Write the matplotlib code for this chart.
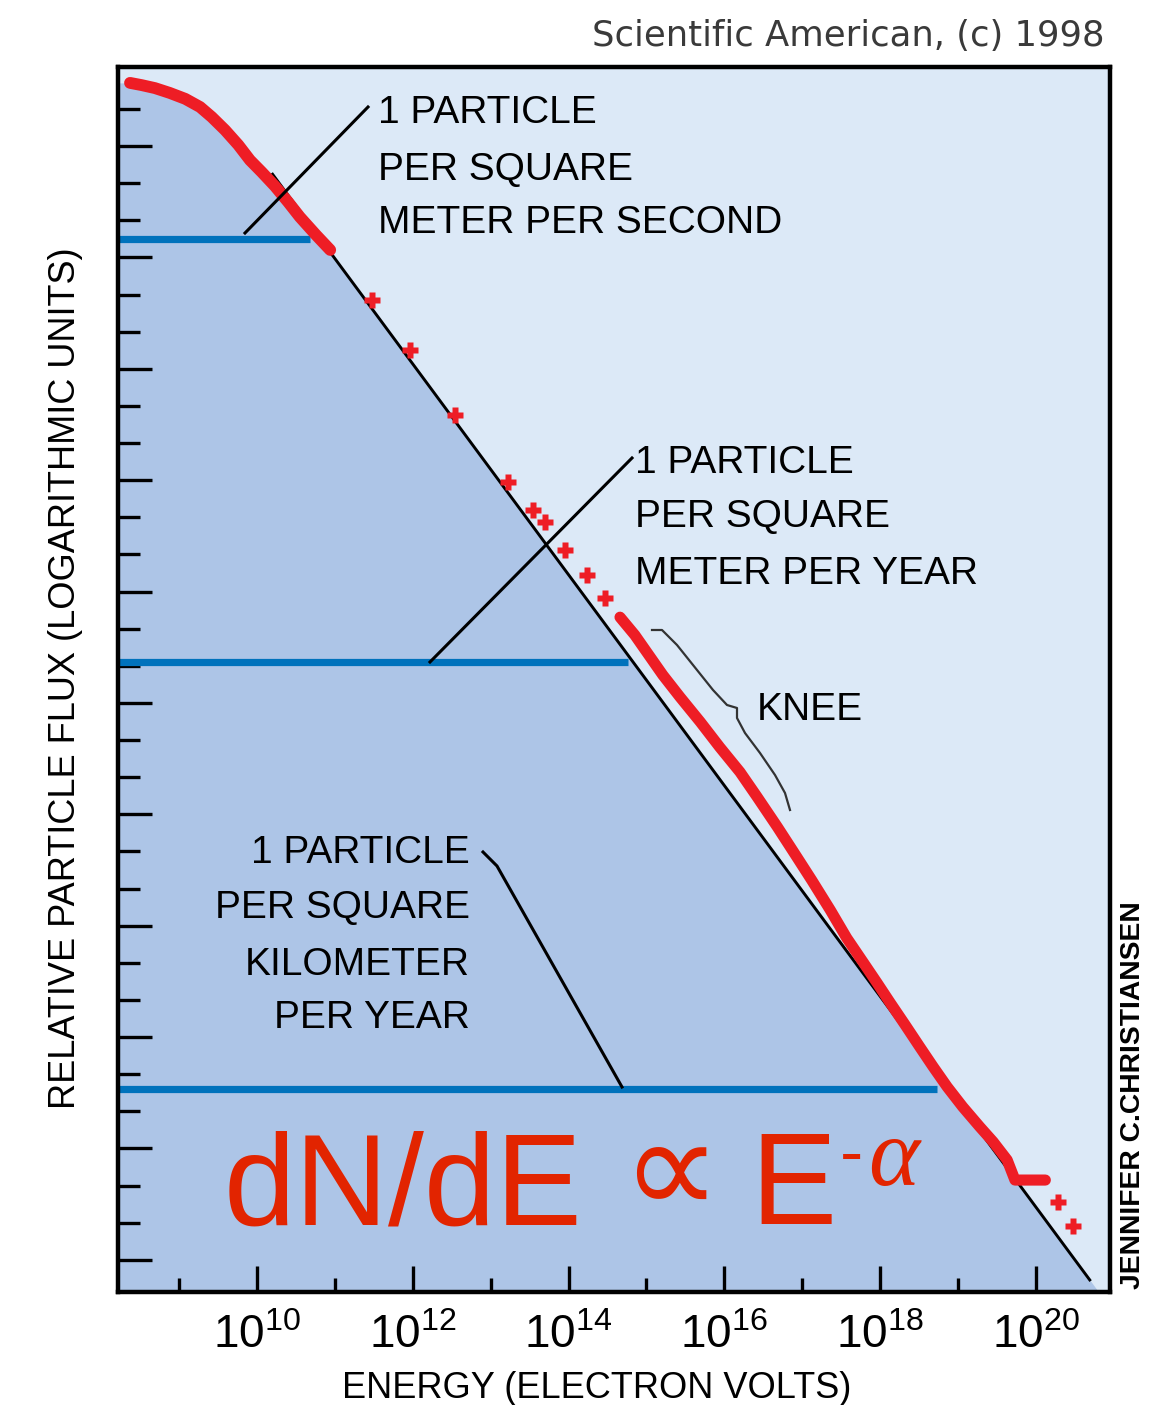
import numpy as np
import matplotlib
matplotlib.use("Agg")
import matplotlib.pyplot as plt
from matplotlib.ticker import FixedLocator, NullFormatter, FuncFormatter

# ---------------- data (log10 energy in eV, log10 relative flux) ----------------
rollover_logE = [8.37, 8.52, 8.69, 8.88, 9.08, 9.27, 9.42, 9.59, 9.76, 9.91,
                 10.06, 10.23, 10.40, 10.55, 10.76, 10.94]
rollover_logF = [1.70, 1.64, 1.56, 1.43, 1.27, 1.05, 0.78, 0.43, 0.03, -0.38,
                 -0.70, -1.08, -1.51, -1.91, -2.40, -2.80]
sparse_logE = [11.48, 11.96, 12.54, 13.22, 13.54, 13.70, 13.95, 14.24, 14.47]
sparse_logF = [-4.15, -5.49, -7.24, -9.05, -9.80, -10.13, -10.88, -11.55, -12.17]
band_logE = [14.66, 14.85, 15.01, 15.21, 15.43, 15.69, 15.94, 16.20, 16.42, 16.68,
             16.93, 17.12, 17.36, 17.57, 17.78, 17.96, 18.13, 18.32, 18.51, 18.68,
             18.86, 19.06, 19.28, 19.45, 19.63, 19.73, 19.92, 20.12]
band_logF = [-12.69, -13.17, -13.65, -14.25, -14.84, -15.51, -16.19, -16.86, -17.53, -18.34,
             -19.15, -19.77, -20.58, -21.33, -21.98, -22.54, -23.08, -23.67, -24.27, -24.80,
             -25.34, -25.88, -26.42, -26.82, -27.31, -27.85, -27.85, -27.85]
highest_logE = [20.28, 20.47]
highest_logF = [-28.44, -29.09]

fit_logE = [10.2, 20.69]          # power-law reference line end points
fit_logF = [-0.76, -30.54]

level_logF = [-2.505, -13.9, -25.4]      # 1/m2/s, 1/m2/yr, 1/km2/yr
level_end_logE = [10.68, 14.76, 18.73]

xtick_major_exp = [10, 12, 14, 16, 18, 20]
xtick_minor_exp = [9, 11, 13, 15, 17, 19, 21]
ytick_major = list(range(-30, 1, 3))
ytick_minor = [v for v in range(-30, 2) if v % 3 != 0]

xlim_log = (8.216, 20.95)
ylim = (-30.865, 2.128)

# ---------------- style ----------------
W, H, DPI = 1164, 1405, 100
LIGHT = '#DCE9F7'
DARK = '#ADC5E7'
BLUE = '#0072BC'
RED = '#EE1D25'
FRED = '#E22400'
SANS = ['Liberation Sans', 'DejaVu Sans']

plt.rcParams['mathtext.fontset'] = 'custom'
plt.rcParams['mathtext.rm'] = 'Liberation Sans'
plt.rcParams['mathtext.it'] = 'Liberation Sans:italic'
plt.rcParams['font.family'] = SANS

fig = plt.figure(figsize=(W / DPI, H / DPI), dpi=DPI, facecolor='white')
ax = fig.add_axes([118 / W, 1 - 1292 / H, (1110 - 118) / W, (1292 - 67) / H])
ax.set_facecolor(LIGHT)
ax.set_xscale('log')
ax.set_xlim(10 ** xlim_log[0], 10 ** xlim_log[1])
ax.set_ylim(*ylim)

# dark fill under the spectrum
slope = (fit_logF[1] - fit_logF[0]) / (fit_logE[1] - fit_logE[0])
xg = np.linspace(xlim_log[0], xlim_log[1], 1500)
line_y = fit_logF[0] + slope * (xg - fit_logE[0])
roll_y = np.interp(xg, rollover_logE, rollover_logF, left=rollover_logF[0], right=np.inf)
top = np.maximum(np.minimum(line_y, roll_y), ylim[0])
ax.fill_between(10 ** xg, ylim[0], top, color=DARK, lw=0, zorder=1)

# flux level lines
ax.hlines(level_logF, 10 ** xlim_log[0], 10 ** np.array(level_end_logE),
          color=BLUE, lw=5.2, zorder=2)

# power-law line
ax.plot(10 ** np.array(fit_logE), fit_logF, color='black', lw=2.1, zorder=3)

# data
ax.plot(10 ** np.array(rollover_logE), rollover_logF, color=RED, lw=8.5,
        solid_capstyle='round', zorder=4)
ax.plot(10 ** np.array(band_logE), band_logF, color=RED, lw=8,
        solid_capstyle='round', zorder=4)
ax.plot(10 ** np.array(sparse_logE), sparse_logF, 'P', color=RED, ms=11,
        mec='none', zorder=4)
ax.plot(10 ** np.array(highest_logE), highest_logF, 'P', color=RED, ms=11,
        mec='none', zorder=4)

# axes styling
for s in ax.spines.values():
    s.set_linewidth(3.2)
    s.set_color('black')
ax.xaxis.set_major_locator(FixedLocator([10.0 ** e for e in xtick_major_exp]))
ax.xaxis.set_minor_locator(FixedLocator([10.0 ** e for e in xtick_minor_exp]))
ax.xaxis.set_major_formatter(FuncFormatter(
    lambda v, p: r'$10^{%d}$' % int(round(np.log10(v)))))
ax.xaxis.set_minor_formatter(NullFormatter())
ax.yaxis.set_major_locator(FixedLocator(ytick_major))
ax.yaxis.set_minor_locator(FixedLocator(ytick_minor))
ax.yaxis.set_major_formatter(NullFormatter())
ax.yaxis.set_minor_formatter(NullFormatter())
ax.tick_params(axis='x', which='major', direction='in', length=18.7, width=2.4,
               labelsize=33, pad=16, top=False)
ax.tick_params(axis='x', which='minor', direction='in', length=10, width=2.4, top=False)
ax.tick_params(axis='y', which='major', direction='in', length=24.5, width=2.4, right=False)
ax.tick_params(axis='y', which='minor', direction='in', length=16, width=2.4, right=False)


def fline(pts, **kw):
    xs = [p[0] / W for p in pts]
    ys = [1 - p[1] / H for p in pts]
    ax.plot(xs, ys, transform=fig.transFigure, clip_on=False, **kw)


# callout lines
fline([(245, 233), (368, 107)], color='black', lw=2.2, zorder=5)
fline([(430, 662), (632, 458)], color='black', lw=2.2, zorder=5)
fline([(483, 852), (497, 866), (622, 1087)], color='black', lw=2.2, zorder=5)
fline([(652, 630), (662, 630), (677, 645), (697, 670), (713, 690), (727, 705),
       (737, 708), (737, 718), (745, 733), (760, 753), (775, 775), (785, 793),
       (790, 810)], color='#333333', lw=1.6, zorder=5)


def ftext(x, y, s, **kw):
    fig.text(x / W, 1 - y / H, s, **kw)


TK = dict(fontsize=28, family=SANS, color='black', va='baseline')
ftext(378, 123, '1 PARTICLE', **TK)
ftext(378, 180, 'PER SQUARE', **TK)
ftext(378, 233, 'METER PER SECOND', **TK)
ftext(635, 473, '1 PARTICLE', **TK)
ftext(635, 527, 'PER SQUARE', **TK)
ftext(635, 584, 'METER PER YEAR', **TK)
ftext(470, 863, '1 PARTICLE', ha='right', **TK)
ftext(470, 918, 'PER SQUARE', ha='right', **TK)
ftext(470, 975, 'KILOMETER', ha='right', **TK)
ftext(470, 1028, 'PER YEAR', ha='right', **TK)
ftext(757, 720, 'KNEE', **TK)

ftext(224, 1224, 'dN/dE', fontsize=93, family=SANS, color=FRED, va='baseline')
ftext(671, 1216, '\u221d', fontsize=100, family=['DejaVu Sans'], color=FRED,
      ha='center', va='baseline')
ftext(750, 1224, 'E', fontsize=93, family=SANS, color=FRED, va='baseline')
ftext(840, 1175, '-', fontsize=50, family=SANS, color=FRED, va='baseline')
ftext(868, 1185, '\u03b1', fontsize=70, family=['Liberation Serif', 'DejaVu Serif'],
      style='italic', color=FRED, va='baseline')

ftext(1105, 46, 'Scientific American, (c) 1998', fontsize=25.5,
      family=['DejaVu Sans'], color='#3a3a3a', ha='right', va='baseline')
ftext(66, 678, 'RELATIVE PARTICLE FLUX (LOGARITHMIC UNITS)', fontsize=26,
      family=SANS, rotation=90, ha='center', va='center')
ftext(597, 1398, 'ENERGY (ELECTRON VOLTS)', fontsize=26, family=SANS,
      ha='center', va='baseline')
ftext(1133, 1095, 'JENNIFER C.CHRISTIANSEN', fontsize=20.3, family=SANS,
      weight='bold', rotation=90, ha='center', va='center')

fig.savefig('out.png', dpi=DPI, facecolor='white')
